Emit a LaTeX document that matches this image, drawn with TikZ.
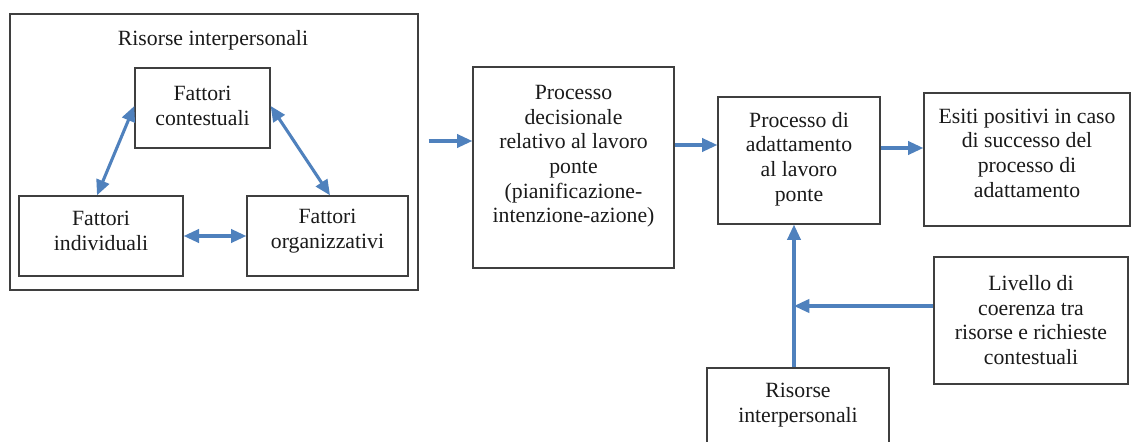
\documentclass[tikz,border=0pt]{standalone}
\usepackage{fontspec}
\setmainfont{Liberation Serif}
\usetikzlibrary{arrows.meta,calc}
\definecolor{arrowblue}{HTML}{4F81BD}
\definecolor{boxline}{HTML}{3F3F3F}
\definecolor{txt}{HTML}{1A1A1A}
\begin{document}
\begin{tikzpicture}[x=0.75pt,y=-0.75pt,
  box/.style={draw=boxline, line width=1pt, rectangle, inner sep=0pt},
  plain/.style={align=center, inner sep=0pt, text=txt, font=\fontsize{16.3}{18.5}\selectfont},
  arr/.style={draw=arrowblue, line width=2.3pt, -{Triangle[length=11.5pt,width=10pt]}},
  darr/.style={draw=arrowblue, line width=2.3pt, {Triangle[length=11.5pt,width=10pt]}-{Triangle[length=11.5pt,width=10pt]}}]
\useasboundingbox (0,0) rectangle (1133,442);
\fill[white] (0,0) rectangle (1133,442);
\clip (0,0) rectangle (1133,442);

% left group
\node[box, minimum width=306pt, minimum height=207pt] (outer) at (214,152) {};
\node[plain] (title) at (213,40) {Risorse interpersonali};
\node[box, minimum width=101.25pt, minimum height=60pt] (ctx) at (202.5,108) {};
\node[plain] (ctxt) at (202.5,106) {Fattori\\contestuali};
\node[box, minimum width=123pt, minimum height=60pt] (ind) at (101,236) {};
\node[plain] (indt) at (101,231) {Fattori\\individuali};
\node[box, minimum width=120.75pt, minimum height=60pt] (org) at (327.5,236) {};
\node[plain] (orgt) at (327.5,231) {Fattori\\organizzativi};

\draw[darr] ($(ctx.west)+(0,-2)$) -- ($(ind.north)+(-4,0)$);
\draw[darr] ($(ctx.east)+(0,-2)$) -- ($(org.north)+(2.5,0)$);
\draw[darr] (ind.east) -- (org.west);

% main flow
\node[box, minimum width=150.75pt, minimum height=150.75pt] (dec) at (573.5,167.5) {};
\node[plain] (dect) at (573.5,156.5)
  {Processo\\decisionale\\relativo al lavoro\\ponte\\(pianificazione-\\intenzione-azione)};
\node[box, minimum width=121.5pt, minimum height=95.25pt] (adapt) at (799,160.5) {};
\node[plain] (adaptt) at (799,159) {Processo di\\adattamento\\al lavoro\\ponte};
\node[box, minimum width=154.5pt, minimum height=99.75pt] (esiti) at (1027,159.5) {};
\node[plain] (esitit) at (1027,153) {Esiti positivi in caso\\di successo del\\processo di\\adattamento};
\node[box, minimum width=145.5pt, minimum height=95.25pt] (liv) at (1031,320.5) {};
\node[plain] (livt) at (1031,320) {Livello di\\coerenza tra\\risorse e richieste\\contestuali};
\node[box, minimum width=136.5pt, minimum height=58.5pt] (ris) at (798,407) {};
\node[plain] (rist) at (798,405) {Risorse\\interpersonali};

\coordinate (in) at ($(outer.east)+(10,-11)$);
\draw[arr] (in) -- (dec.west |- in);
\draw[arr] (dec.east |- 0,145) -- (adapt.west |- 0,145);
\draw[arr] (adapt.east |- 0,148) -- (esiti.west |- 0,148);
\coordinate (up) at ($(ris.north)+(-4,0)$);
\draw[arr] (up) -- (adapt.south -| up);
\coordinate (j) at (up |- 0,306);
\draw[arr] (liv.west |- 0,306) -- (j);
\end{tikzpicture}
\end{document}
